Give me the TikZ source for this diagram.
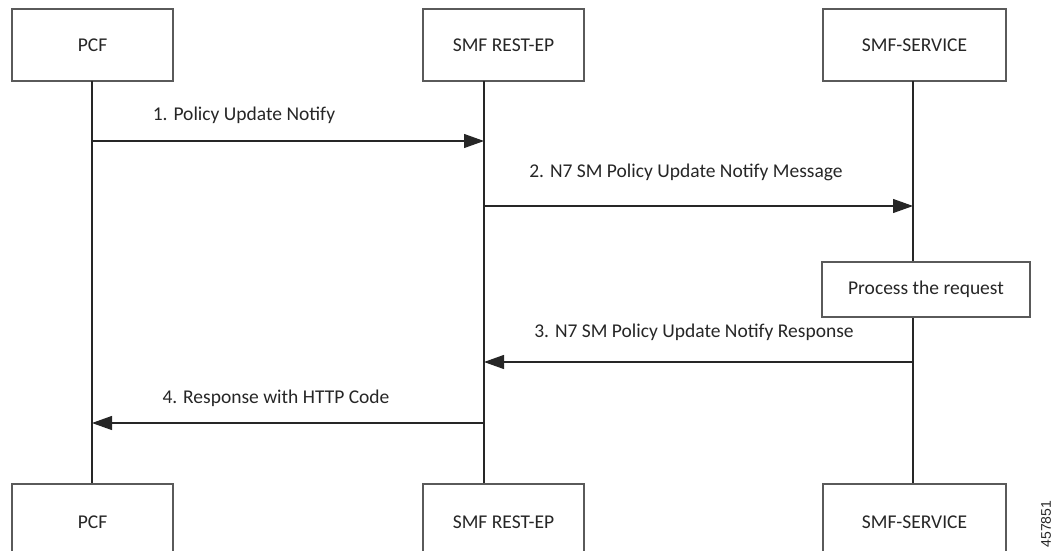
\documentclass[tikz,border=0pt]{standalone}
\usepackage{fontspec}
\setmainfont{Carlito}
\newfontfamily\idfont{Liberation Sans}
\usetikzlibrary{arrows.meta}

\definecolor{boxline}{HTML}{5A5A5A}
\definecolor{ink}{HTML}{262626}

\tikzset{
	actor/.style={draw=boxline, line width=1.6pt, fill=white, minimum height=72pt, text=ink, inner sep=0pt},
	life/.style={draw=ink, line width=1.2pt},
	msg/.style={draw=ink, line width=1.2pt, -{Triangle[length=20pt,width=14pt]}},
	msglabel/.style={text=ink, inner sep=0pt},
}

\begin{document}
\begin{tikzpicture}[x=1pt, y=-1pt, font=\fontsize{19.5}{23}\selectfont]
	\useasboundingbox (0,0) rectangle (1055,550);
	\clip (0,0) rectangle (1055,550);

	% top boxes
	\node[actor, minimum width=161pt] (pcf) at (92.5, 45) {PCF};
	\node[actor, minimum width=161pt] (rest) at (503.5, 45) {SMF REST-EP};
	\node[actor, minimum width=183pt] (svc) at (914.5, 45) {SMF-SERVICE};

	% bottom boxes (cut by the lower edge)
	\node[actor, minimum width=161pt, minimum height=76pt, anchor=north] (pcfb) at (92.5, 483) {PCF};
	\node[actor, minimum width=161pt, minimum height=76pt, anchor=north] (restb) at (503.5, 483) {SMF REST-EP};
	\node[actor, minimum width=183pt, minimum height=76pt, anchor=north] (svcb) at (914.5, 483) {SMF-SERVICE};

	% lifelines
	\coordinate (pcfl) at (92, 81);
	\coordinate (restl) at (484, 81);
	\coordinate (svcl) at (913, 81);
	\draw[life] (pcfl) -- (pcfl |- pcfb.north);
	\draw[life] (restl) -- (restl |- restb.north);
	\draw[life] (svcl) -- (svcl |- svcb.north);

	\node[actor, minimum width=208pt, minimum height=55pt] (proc) at (926, 289.5) {Process the request};

	% messages
	\draw[msg] (pcfl |- 0,141) -- (restl |- 0,141);
	\node[msglabel] (m1) at (244, 115) {1. Policy Update Notify};

	\draw[msg] (restl |- 0,206) -- (svcl |- 0,206);
	\node[msglabel] (m2) at (686, 172) {2. N7 SM Policy Update Notify Message};

	\draw[msg] (svcl |- 0,362) -- (restl |- 0,362);
	\node[msglabel] (m3) at (694, 332) {3. N7 SM Policy Update Notify Response};

	\draw[msg] (restl |- 0,423) -- (pcfl |- 0,423);
	\node[msglabel] (m4) at (276, 398) {4. Response with HTTP Code};

	\node[rotate=90, text=ink, font=\idfont\fontsize{14}{16}\selectfont] (fig) at (1046, 524) {457851};
\end{tikzpicture}
\end{document}
